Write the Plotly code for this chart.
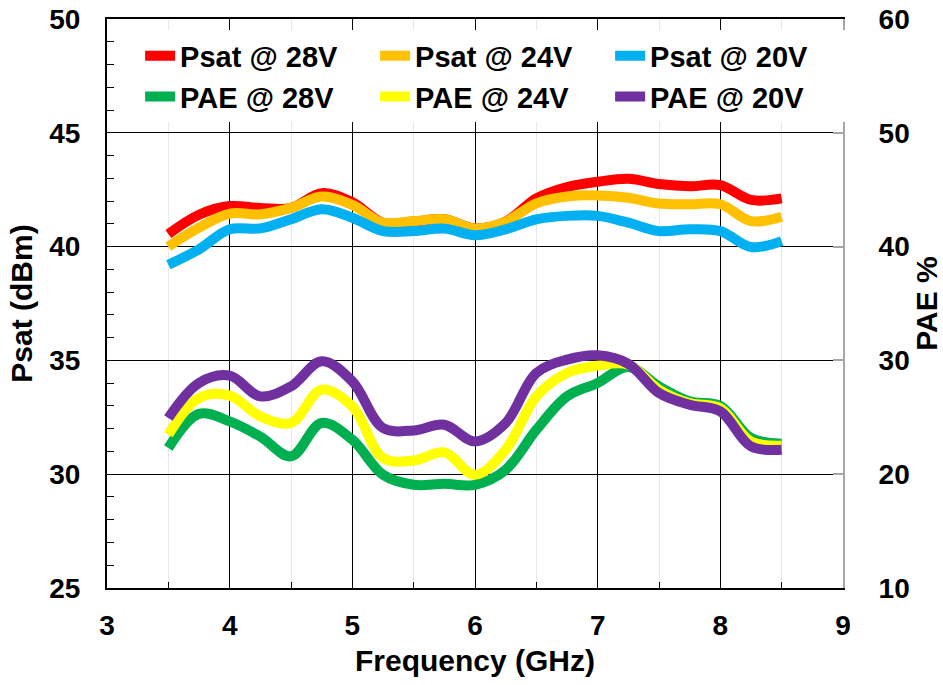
import plotly.graph_objects as go

freq_ghz = [3.5, 3.75, 4.0, 4.25, 4.5, 4.75, 5.0, 5.25, 5.5, 5.75, 6.0,
            6.25, 6.5, 6.75, 7.0, 7.25, 7.5, 7.75, 8.0, 8.25, 8.5]

psat_28v = [40.55, 41.4, 41.78, 41.7, 41.7, 42.35, 41.95, 41.05, 41.1, 41.2, 40.8,
            41.1, 42.12, 42.62, 42.85, 42.98, 42.75, 42.65, 42.7, 42.05, 42.12]
psat_24v = [40.0, 40.83, 41.45, 41.42, 41.7, 42.2, 41.83, 41.05, 41.12, 41.2, 40.8,
            41.1, 41.9, 42.2, 42.25, 42.15, 41.89, 41.86, 41.86, 41.12, 41.31]
psat_20v = [39.2, 39.88, 40.76, 40.8, 41.2, 41.64, 41.27, 40.68, 40.68, 40.79, 40.5,
            40.76, 41.2, 41.35, 41.35, 41.05, 40.68, 40.76, 40.68, 39.98, 40.24]

pae_28v = [22.3, 25.3, 24.64, 23.3, 21.57, 24.5, 23.03, 19.95, 19.07, 19.15, 19.07,
           20.39, 23.9, 26.84, 28.02, 29.43, 27.72, 26.4, 26.0, 23.18, 22.68]
pae_24v = [23.47, 26.7, 26.9, 25.08, 24.5, 27.43, 25.96, 21.42, 21.2, 21.91, 19.95,
           22.15, 26.84, 28.9, 29.54, 29.63, 27.43, 26.25, 25.8, 22.88, 22.5]
pae_20v = [24.94, 28.02, 28.66, 26.84, 27.72, 29.92, 28.16, 24.06, 23.85, 24.35, 22.88,
           24.5, 28.9, 30.07, 30.45, 29.7, 27.13, 26.1, 25.52, 22.44, 22.15]

series = [
    ("Psat @ 28V", psat_28v, "#FF0000", "y"),
    ("Psat @ 24V", psat_24v, "#FFC000", "y"),
    ("Psat @ 20V", psat_20v, "#00B0F0", "y"),
    ("PAE @ 28V", pae_28v, "#00B050", "y2"),
    ("PAE @ 24V", pae_24v, "#FFFF00", "y2"),
    ("PAE @ 20V", pae_20v, "#7030A0", "y2"),
]

FONT = "Liberation Sans, Arial, sans-serif"

fig = go.Figure()
for name, vals, color, ax in series:
    fig.add_trace(go.Scatter(
        x=freq_ghz, y=vals, name=name, yaxis=ax, mode="lines",
        line=dict(color=color, width=10, shape="spline", smoothing=1.0),
    ))

fig.update_layout(
    width=943, height=685,
    margin=dict(l=107, r=100, t=19, b=97, autoexpand=False),
    paper_bgcolor="white", plot_bgcolor="white",
    font=dict(family=FONT, size=28, color="black", weight="bold"),
    showlegend=True,
    legend=dict(
        orientation="h", x=0.045, y=0.98, xanchor="left", yanchor="top",
        bgcolor="white", borderwidth=0, entrywidth=190, entrywidthmode="pixels",
        font=dict(family=FONT, size=29, color="black", weight="bold"),
        itemwidth=30, tracegroupgap=0,
    ),
    xaxis=dict(
        range=[3, 9], dtick=1, tick0=3, automargin=False,
        showgrid=True, gridcolor="black", gridwidth=1,
        showline=True, linecolor="black", linewidth=2, mirror=True,
        ticks="", ticklabelstandoff=11,
        tickfont=dict(family=FONT, size=28, color="black", weight="bold"),
        title=dict(text="Frequency (GHz)", standoff=10,
                   font=dict(family=FONT, size=30, color="black", weight="bold")),
        minor=dict(dtick=0.5, showgrid=True, gridcolor="#e8e8e8", gridwidth=1,
                   ticks="inside", ticklen=6, tickcolor="black", tickwidth=1),
        zeroline=False,
    ),
    yaxis=dict(
        range=[25, 50], dtick=5, tick0=25, automargin=False,
        showgrid=True, gridcolor="black", gridwidth=1,
        showline=True, linecolor="black", linewidth=2,
        ticks="", ticklabelstandoff=19,
        tickfont=dict(family=FONT, size=28, color="black", weight="bold"),
        title=dict(text="Psat (dBm)", standoff=8,
                   font=dict(family=FONT, size=30, color="black", weight="bold")),
        minor=dict(dtick=1, showgrid=False, ticks="inside", ticklen=7,
                   tickcolor="black", tickwidth=1),
        zeroline=False,
    ),
    yaxis2=dict(
        range=[10, 60], dtick=10, tick0=10, overlaying="y", side="right",
        automargin=False,
        showgrid=False, showline=True, linecolor="#a6a6a6", linewidth=2,
        ticks="inside", ticklen=10, tickcolor="#a6a6a6", tickwidth=2,
        ticklabelstandoff=28,
        tickfont=dict(family=FONT, size=28, color="black", weight="bold"),
        title=dict(text="PAE %", standoff=4,
                   font=dict(family=FONT, size=30, color="black", weight="bold")),
        zeroline=False,
    ),
)

fig.write_html("out.html")
